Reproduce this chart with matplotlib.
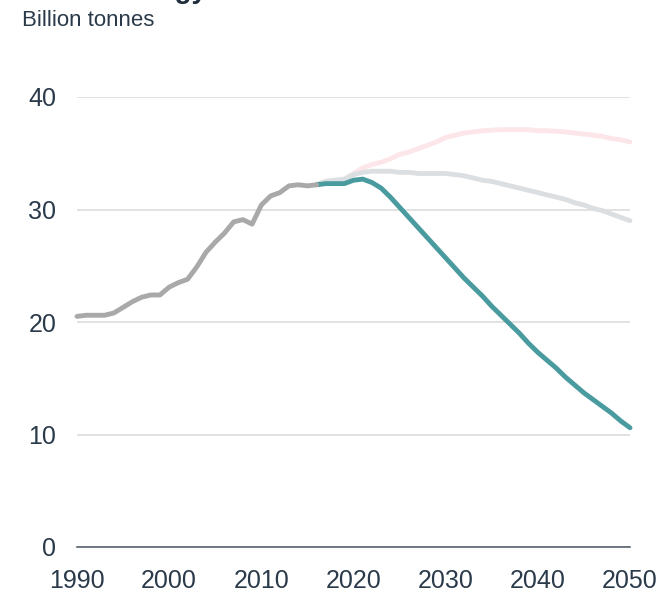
import matplotlib
matplotlib.use("Agg")
import matplotlib.pyplot as plt

plt.rcParams['font.family'] = ['Liberation Sans', 'DejaVu Sans']

hist_years = list(range(1990, 2017))
hist_vals = [20.5, 20.6, 20.6, 20.6, 20.8, 21.3, 21.8, 22.2, 22.4, 22.4,
             23.1, 23.5, 23.8, 24.9, 26.2, 27.1, 27.9, 28.9, 29.1, 28.7,
             30.4, 31.2, 31.5, 32.1, 32.2, 32.1, 32.2]

proj_years = list(range(2016, 2051))
current_policies = [32.2, 32.5, 32.6, 32.7, 33.2, 33.7, 34.0, 34.2, 34.5, 34.9,
                    35.1, 35.4, 35.7, 36.0, 36.4, 36.6, 36.8, 36.9, 37.0, 37.05,
                    37.1, 37.1, 37.1, 37.1, 37.0, 37.0, 36.95, 36.9, 36.8, 36.7,
                    36.6, 36.5, 36.3, 36.2, 36.0]
stated_policies = [32.2, 32.5, 32.6, 32.7, 33.1, 33.3, 33.4, 33.4, 33.4, 33.3,
                   33.3, 33.2, 33.2, 33.2, 33.2, 33.1, 33.0, 32.8, 32.6, 32.5,
                   32.3, 32.1, 31.9, 31.7, 31.5, 31.3, 31.1, 30.9, 30.6, 30.4,
                   30.1, 29.9, 29.6, 29.3, 29.0]
sustainable = [32.2, 32.3, 32.3, 32.3, 32.6, 32.7, 32.4, 31.9, 31.1, 30.2,
               29.3, 28.4, 27.5, 26.6, 25.7, 24.8, 23.9, 23.1, 22.3, 21.4,
               20.6, 19.8, 19.0, 18.1, 17.3, 16.6, 15.9, 15.1, 14.4, 13.7,
               13.1, 12.5, 11.9, 11.2, 10.6]

x_ticks = [1990, 2000, 2010, 2020, 2030, 2040, 2050]
y_ticks = [0, 10, 20, 30, 40]

title = "Global energy-related CO\u2082 emissions"
subtitle = "Billion tonnes"

text_color = '#2b3a4a'

fig = plt.figure(figsize=(6.57, 5.95), dpi=100)
ax = fig.add_axes([77/657, 1 - 547/595, (630-77)/657, (547-97)/595])

lw = 3.5
ax.plot(proj_years, current_policies, color='#fde6ea', lw=lw, solid_capstyle='round',
        solid_joinstyle='round', zorder=3)
ax.plot(proj_years, stated_policies, color='#dcdfe2', lw=lw, solid_capstyle='round',
        solid_joinstyle='round', zorder=4)
ax.plot(proj_years, sustainable, color='#4a9b9f', lw=lw, solid_capstyle='round',
        solid_joinstyle='round', zorder=5)
ax.plot(hist_years, hist_vals, color='#a9a9a9', lw=lw, solid_capstyle='round',
        solid_joinstyle='round', zorder=6)

ax.set_xlim(1990, 2050)
ax.set_ylim(0, 40)
ax.set_xticks(x_ticks)
ax.set_yticks(y_ticks)
ax.grid(axis='y', color='#dadada', lw=1.1, zorder=0)
ax.grid(axis='x', visible=False)
for s in ['top', 'right', 'left']:
    ax.spines[s].set_visible(False)
ax.spines['bottom'].set_color('#4a5560')
ax.spines['bottom'].set_linewidth(1.1)
ax.spines['bottom'].set_zorder(7)
ax.tick_params(axis='both', length=0, labelsize=18, labelcolor=text_color)
ax.tick_params(axis='y', pad=15)
ax.tick_params(axis='x', pad=16)
for l in ax.get_lines():
    l.set_clip_on(False)

fig.text(22/657, 1 + 2/595, title, fontsize=20, fontweight='bold',
         color='#1f2d3d', va='baseline', ha='left')
fig.text(22/657, 1 - 21/595, subtitle, fontsize=16, color=text_color,
         va='center', ha='left')

fig.savefig('out.png', dpi=100)
